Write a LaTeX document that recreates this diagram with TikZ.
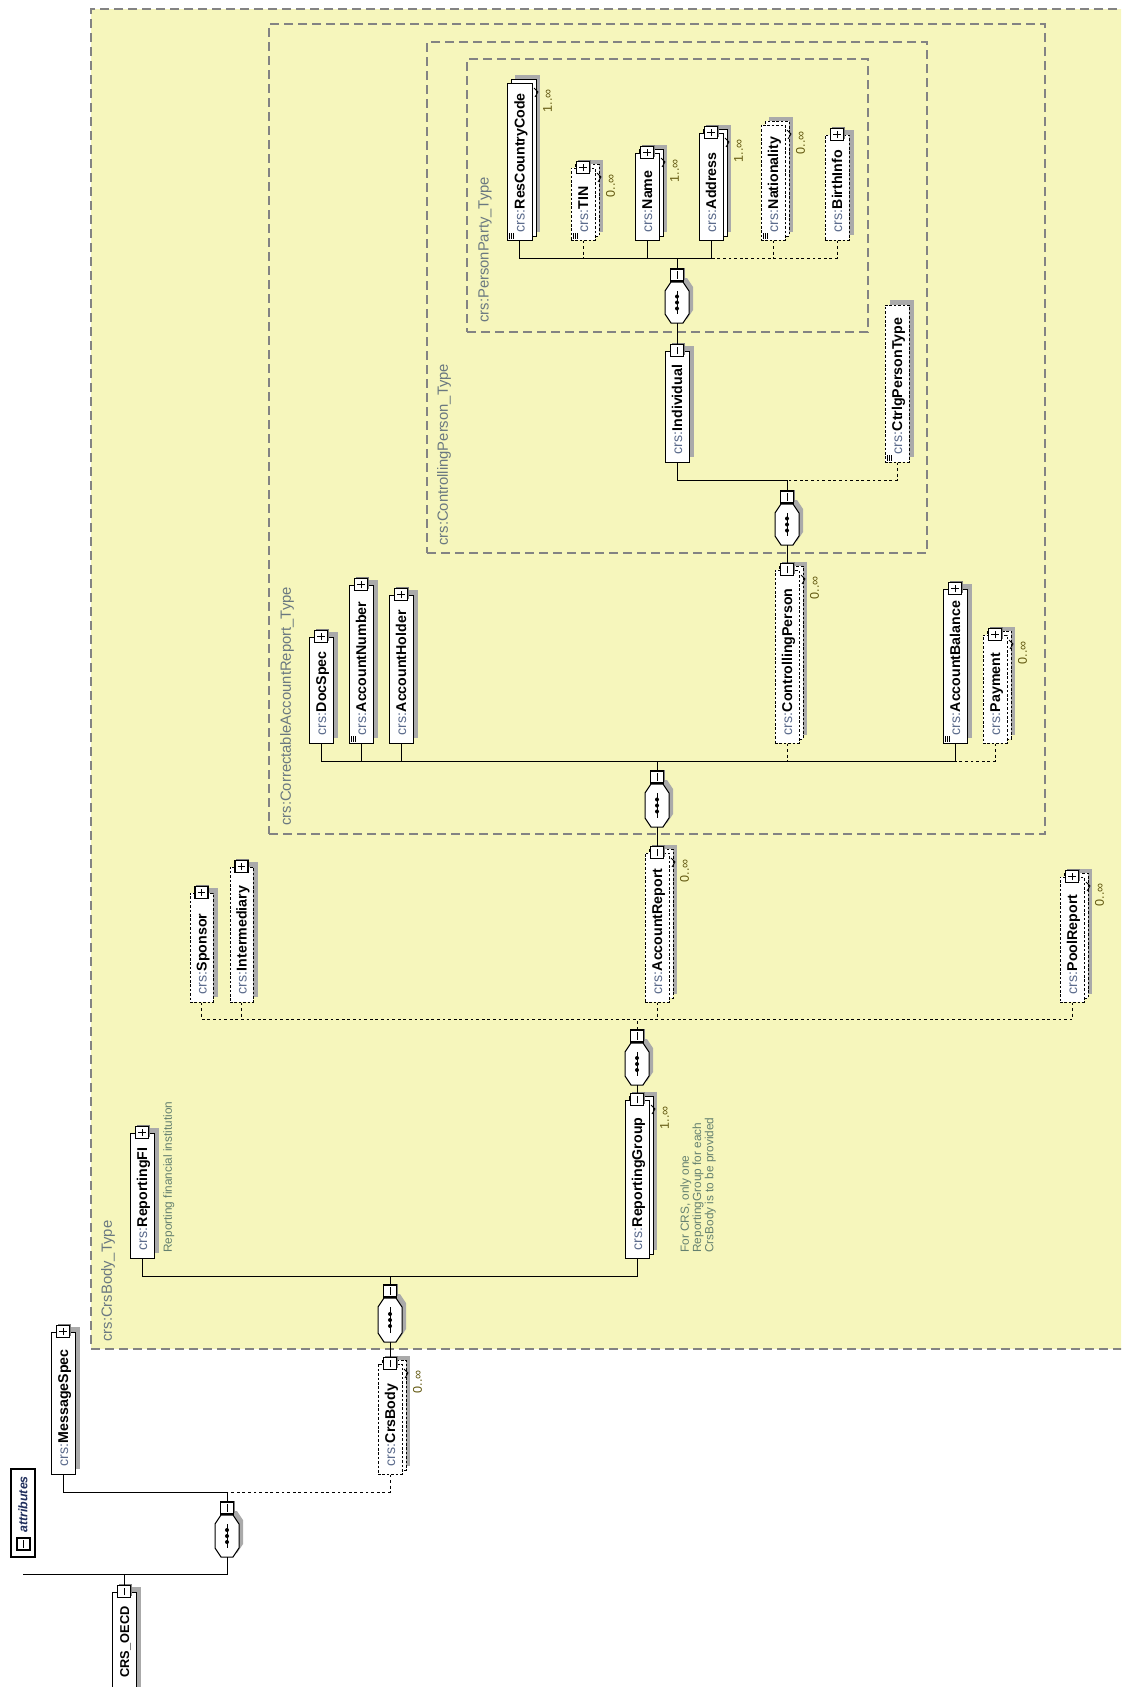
\documentclass[tikz,border=0pt]{standalone}
\usepackage{fontspec}
\setmainfont{Liberation Sans}
\usetikzlibrary{fit,shadows}
\definecolor{yel}{HTML}{F6F6BC}
\definecolor{dashc}{HTML}{838383}
\definecolor{shc}{HTML}{AAAAAA}
\definecolor{pfx}{HTML}{5B6B8C}
\definecolor{typec}{HTML}{6A7880}
\definecolor{descc}{HTML}{64806F}
\definecolor{multc}{HTML}{625810}
\definecolor{attrc}{HTML}{1F2E5C}
\newcommand{\crs}[1]{{\color{pfx}crs:}\textbf{#1}}
\tikzset{
  solidb/.style={},
  optb/.style={dash pattern=on 1.3pt off 0.9pt},
  conn/.style={line width=0.5pt},
  optc/.style={line width=0.5pt, dash pattern=on 1.4pt off 1.4pt},
  typeb/.style={draw=dashc, line width=0.75pt, dash pattern=on 4.5pt off 2.5pt},
  iconb/.style={draw, fill=white, line width=0.6pt, minimum width=6.5pt, minimum height=6pt, inner sep=0pt,
    drop shadow={shadow xshift=0.6pt, shadow yshift=0.6pt, fill=black!50, opacity=1}},
  plusic/.style={iconb, path picture={\draw[line width=0.45pt]
    ([xshift=-1.9pt]path picture bounding box.center) -- ([xshift=1.9pt]path picture bounding box.center)
    ([yshift=-1.9pt]path picture bounding box.center) -- ([yshift=1.9pt]path picture bounding box.center);}},
  minusic/.style={iconb, path picture={\draw[line width=0.45pt]
    ([yshift=-1.9pt]path picture bounding box.center) -- ([yshift=1.9pt]path picture bounding box.center);}},
  nametext/.style={rotate=90, anchor=west, inner sep=0pt, font=\fontsize{7.1}{8}\selectfont, text height=5.1pt, text depth=0pt},
  multtext/.style={rotate=90, anchor=west, inner sep=0pt, font=\fontsize{6.3}{7}\selectfont, text=multc, text height=4.4pt, text depth=0pt},
  typetext/.style={rotate=90, anchor=west, inner sep=0pt, font=\fontsize{7.4}{8}\selectfont, text=typec},
  desctext/.style={rotate=90, anchor=north west, inner sep=0pt, align=left, font=\fontsize{5.9}{6.1}\selectfont, text=descc},
}
% element box: name, left, top, right, bottom, border style, stacked (s/n)
\newcommand{\elbox}[7]{%
  \if s#7%
    \fill[shc] (#2+8,#3-8) rectangle (#4+8,#5-8);
    \filldraw[fill=white,line width=0.5pt,#6] (#2+4,#3-4) rectangle (#4+4,#5-4);
    \draw[line width=0.4pt] (#4+2,#3+5) -- (#4+6,#3+9) -- (#4+3,#3+14);
  \else
    \fill[shc] (#2+5,#3-5) rectangle (#4+5,#5-5);
  \fi
  \node[fit={(#2,#3)(#4,#5)}, inner sep=0pt, draw, fill=white, line width=0.5pt, #6] (#1) {};
}
\newcommand{\eltext}[2]{\node[nametext] (#1-t) at ([yshift=4pt]#1.south) {#2};}
\newcommand{\elicon}[2]{\node[#2ic] (#1-i) at (#1.north) {};}
\newcommand{\elmult}[2]{\node[multtext] (#1-m) at ([xshift=7.5pt,yshift=-15pt]#1.north east) {#2};}
\newcommand{\elsimple}[1]{\draw[line width=0.3pt]
  ([xshift=1.3pt,yshift=1pt]#1.south west) -- ++(0,3pt)
  ([xshift=2.3pt,yshift=1pt]#1.south west) -- ++(0,3pt)
  ([xshift=3.3pt,yshift=1pt]#1.south west) -- ++(0,3pt);}
% sequence compositor: name, center x, top, bottom
\newcommand{\seqc}[4]{%
  \fill[shc, shift={(4,-4)}] (#2-6,#3) -- (#2+6,#3) -- (#2+12,#3+9) -- (#2+12,#4-9) -- (#2+6,#4) -- (#2-6,#4) -- (#2-12,#4-9) -- (#2-12,#3+9) -- cycle;
  \node[fit={(#2-12,#3)(#2+12,#4)}, inner sep=0pt] (#1) {};
  \filldraw[fill=white, line width=0.5pt] (#2-6,#3) -- (#2+6,#3) -- (#2+12,#3+9) -- (#2+12,#4-9) -- (#2+6,#4) -- (#2-6,#4) -- (#2-12,#4-9) -- (#2-12,#3+9) -- cycle;
  \draw[line width=0.5pt] (#2,#3+9) -- (#2,#4-9);
  \foreach \dd in {-6,0,6} {\fill (#2,{(#3+#4)/2+\dd}) circle (1pt);}
  \node[minusic, anchor=south] (#1-i) at (#1.north) {};
}
\begin{document}
\begin{tikzpicture}[x=0.5pt,y=-0.5pt]
\clip (0,0) rectangle (1121,1687);
\fill[white] (0,0) rectangle (1121,1687);

% ---- type containers
\node[fit={(91,9)(1145,1349)}, inner sep=0pt, typeb, fill=yel] (crsbodytype) {};
\node[typetext] (crsbodytype-t) at (108,1342) {crs:CrsBody\_Type};
\node[fit={(269,24)(1045,834)}, inner sep=0pt, typeb] (cartype) {};
\node[typetext] (cartype-t) at (287,826) {crs:CorrectableAccountReport\_Type};
\node[fit={(427,42)(927,553)}, inner sep=0pt, typeb] (cptype) {};
\node[typetext] (cptype-t) at (444,546) {crs:ControllingPerson\_Type};
\node[fit={(467,59)(868,332)}, inner sep=0pt, typeb] (pptype) {};
\node[typetext] (pptype-t) at (485,323) {crs:PersonParty\_Type};

% ---- PersonParty_Type children
\elbox{rcc}{507}{83}{532}{240}{solidb}{s} \elsimple{rcc} \eltext{rcc}{\crs{ResCountryCode}} \elmult{rcc}{1..∞}
\elbox{tin}{571}{168}{595}{240}{optb}{s} \elicon{tin}{plus} \elsimple{tin} \eltext{tin}{\crs{TIN}} \elmult{tin}{0..∞}
\elbox{name}{635}{153}{659}{240}{solidb}{s} \elicon{name}{plus} \eltext{name}{\crs{Name}} \elmult{name}{1..∞}
\elbox{addr}{699}{133}{723}{240}{solidb}{s} \elicon{addr}{plus} \eltext{addr}{\crs{Address}} \elmult{addr}{1..∞}
\elbox{nat}{761}{125}{785}{240}{optb}{s} \elsimple{nat} \eltext{nat}{\crs{Nationality}} \elmult{nat}{0..∞}
\elbox{birth}{825}{135}{849}{240}{optb}{n} \elicon{birth}{plus} \eltext{birth}{\crs{BirthInfo}}
\seqc{ppseq}{677}{282}{323}

% ---- ControllingPerson_Type
\elbox{indiv}{665}{351}{689}{462}{solidb}{n} \elicon{indiv}{minus} \eltext{indiv}{\crs{Individual}}
\elbox{ctrlg}{885}{305}{909}{462}{optb}{n} \elsimple{ctrlg} \eltext{ctrlg}{\crs{CtrlgPersonType}}
\seqc{cpseq}{787}{504}{545}

% ---- CorrectableAccountReport_Type
\elbox{docspec}{309}{637}{333}{743}{solidb}{n} \elicon{docspec}{plus} \eltext{docspec}{\crs{DocSpec}}
\elbox{accnum}{349}{585}{373}{743}{solidb}{n} \elicon{accnum}{plus} \elsimple{accnum} \eltext{accnum}{\crs{AccountNumber}}
\elbox{acchold}{389}{595}{413}{743}{solidb}{n} \elicon{acchold}{plus} \eltext{acchold}{\crs{AccountHolder}}
\elbox{ctrlp}{775}{570}{799}{743}{optb}{s} \elicon{ctrlp}{minus} \eltext{ctrlp}{\crs{ControllingPerson}} \elmult{ctrlp}{0..∞}
\elbox{accbal}{943}{589}{967}{743}{solidb}{n} \elicon{accbal}{plus} \elsimple{accbal} \eltext{accbal}{\crs{AccountBalance}}
\elbox{payment}{983}{635}{1007}{743}{optb}{s} \elicon{payment}{plus} \eltext{payment}{\crs{Payment}} \elmult{payment}{0..∞}
\seqc{carseq}{657}{784}{827}

% ---- ReportingGroup content
\elbox{sponsor}{190}{893}{213}{1002}{optb}{n} \elicon{sponsor}{plus} \eltext{sponsor}{\crs{Sponsor}}
\elbox{interm}{230}{867}{253}{1002}{optb}{n} \elicon{interm}{plus} \eltext{interm}{\crs{Intermediary}}
\elbox{accrep}{645}{853}{669}{1002}{optb}{s} \elicon{accrep}{minus} \eltext{accrep}{\crs{AccountReport}} \elmult{accrep}{0..∞}
\elbox{poolrep}{1060}{877}{1084}{1002}{optb}{s} \elicon{poolrep}{plus} \eltext{poolrep}{\crs{PoolReport}} \elmult{poolrep}{0..∞}
\seqc{rgseq}{637}{1043}{1085}

% ---- CrsBody_Type content
\elbox{repfi}{130}{1133}{154}{1258}{solidb}{n} \elicon{repfi}{plus} \eltext{repfi}{\crs{ReportingFI}}
\node[desctext] (repfi-d) at (163,1253) {Reporting financial institution};
\elbox{rg}{625}{1100}{649}{1258}{solidb}{s} \elicon{rg}{minus} \eltext{rg}{\crs{ReportingGroup}} \elmult{rg}{1..∞}
\node[desctext] (rg-d) at (680,1253) {For CRS, only one\\ReportingGroup for each\\CrsBody is to be provided};
\seqc{cbseq}{390}{1298}{1342}

% ---- root level
\elbox{crsbody}{378}{1364}{402}{1474}{optb}{s} \elicon{crsbody}{minus} \eltext{crsbody}{\crs{CrsBody}} \elmult{crsbody}{0..∞}
\elbox{msgspec}{51}{1332}{75}{1474}{solidb}{n} \elicon{msgspec}{plus} \eltext{msgspec}{\crs{MessageSpec}}
\seqc{rootseq}{227}{1515}{1557}
\elbox{oecd}{112}{1592}{136}{1700}{solidb}{n} \elicon{oecd}{minus}
\node[nametext, font=\fontsize{6.4}{8}\bfseries] (oecd-t) at (124,1678) {CRS\_OECD};
\node[fit={(11,1469)(35,1557)}, inner sep=0pt, draw, fill=white, line width=0.6pt] (attr) {};
\node[minusic] (attr-i) at (23.5,1544) {};
\node[rotate=90, anchor=west, inner sep=0pt, text=attrc, font=\fontsize{6.2}{7}\selectfont\bfseries\itshape] (attr-t) at (23,1533) {attributes};

% ---- connectors: PersonParty sequence
\coordinate (ppj) at (677,258);
\draw[conn] (ppseq-i.north) -- (ppj);
\draw[conn] (rcc.south) |- (ppj);
\draw[conn] (addr.south) |- (ppj);
\draw[conn] (name.south) -- (name.south |- ppj);
\draw[optc] (tin.south) -- (tin.south |- ppj);
\draw[optc] (nat.south) -- (nat.south |- ppj);
\draw[optc] (birth.south) |- (addr.south |- ppj);
\draw[conn] (ppseq.south) -- (indiv-i.north);
% ControllingPerson sequence
\coordinate (cpj) at (787,480);
\draw[conn] (cpseq-i.north) -- (cpj);
\draw[conn] (indiv.south) |- (cpj);
\draw[optc] (ctrlg.south) |- (cpj);
\draw[conn] (cpseq.south) -- (ctrlp-i.north);
% CorrectableAccountReport sequence
\coordinate (carj) at (657,761);
\draw[conn] (carseq-i.north) -- (carj);
\draw[conn] (docspec.south) |- (carj);
\draw[conn] (accbal.south) |- (carj);
\draw[conn] (accnum.south) -- (accnum.south |- carj);
\draw[conn] (acchold.south) -- (acchold.south |- carj);
\draw[optc] (ctrlp.south) -- (ctrlp.south |- carj);
\draw[optc] (payment.south) |- (accbal.south |- carj);
\draw[conn] (carseq.south) -- (accrep-i.north);
% ReportingGroup sequence
\coordinate (rgj) at (637,1019);
\draw[optc] (rgseq-i.north) -- (rgj);
\draw[optc] (sponsor.south) |- (poolrep.south |- rgj);
\draw[optc] (poolrep.south) -- (poolrep.south |- rgj);
\draw[optc] (interm.south) -- (interm.south |- rgj);
\draw[optc] (accrep.south) -- (accrep.south |- rgj);
\draw[conn] (rgseq.south) -- (rg-i.north);
% CrsBody sequence
\coordinate (cbj) at (390,1276);
\draw[conn] (cbseq-i.north) -- (cbj);
\draw[conn] (repfi.south) |- (cbj);
\draw[conn] (rg.south) |- (cbj);
\draw[conn] (cbseq.south) -- (crsbody-i.north);
% root sequence
\coordinate (rootj) at (227,1492);
\coordinate (rootk) at (227,1574);
\coordinate (rootl) at (23,1574);
\draw[conn] (rootseq-i.north) -- (rootj);
\draw[conn] (msgspec.south) |- (rootj);
\draw[optc] (crsbody.south) |- (rootj);
\draw[conn] (rootseq.south) -- (rootk) -- (rootl);
\draw[conn] (oecd-i.north) -- (oecd-i.north |- rootk);
\end{tikzpicture}
\end{document}
